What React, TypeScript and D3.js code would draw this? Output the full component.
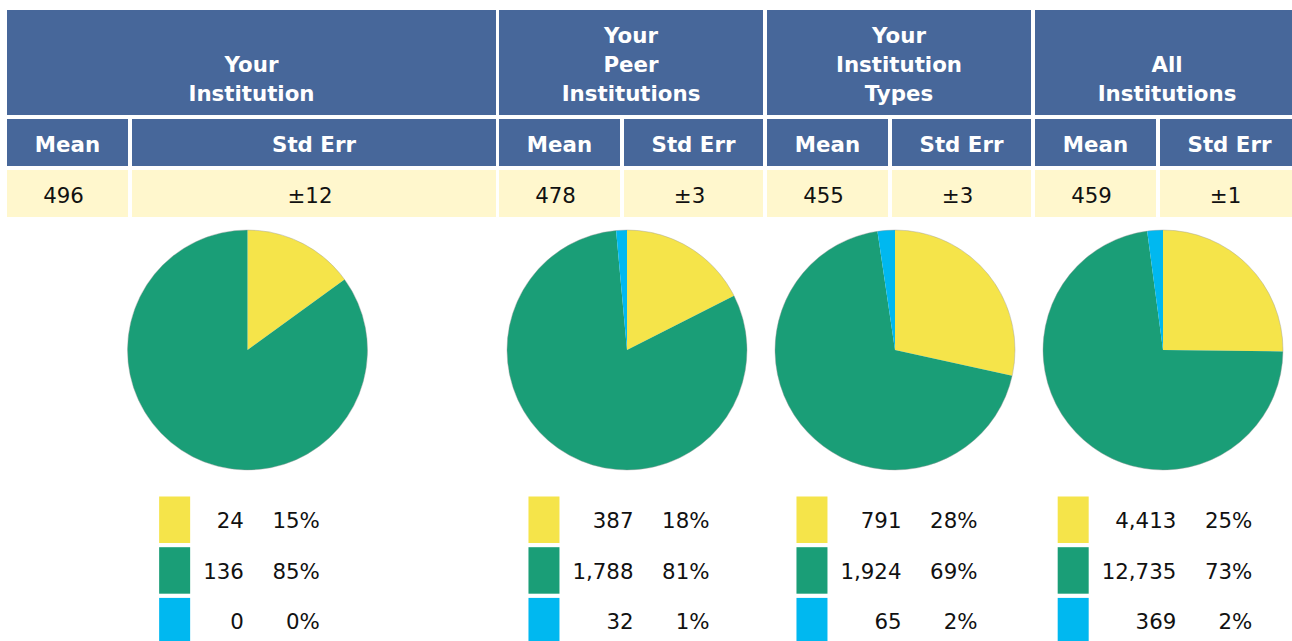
import React from "react";
import * as d3 from "d3";

const groupTitles: string[][] = [
  ["Your", "Institution"],
  ["Your", "Peer", "Institutions"],
  ["Your", "Institution", "Types"],
  ["All", "Institutions"],
];
const meanValues = [496, 478, 455, 459];
const stdErrValues = [12, 3, 3, 1];
const categoryKeys = ["yellow", "green", "blue"];
const yellowCounts = [24, 387, 791, 4413];
const greenCounts = [136, 1788, 1924, 12735];
const blueCounts = [0, 32, 65, 369];
const yellowPct = [15, 18, 28, 25];
const greenPct = [85, 81, 69, 73];
const bluePct = [0, 1, 2, 2];

const W = 1292;
const H = 641;
const HEADER_BLUE = "#47679A";
const DATA_BG = "#FFF7CD";
const FONT = "'DejaVu Sans', Verdana, sans-serif";
const FS = 21.33;
const color = d3.scaleOrdinal<string, string>().domain(categoryKeys).range(["#F5E44A", "#1A9E77", "#00B8F0"]);

const groupX = [7, 499, 767, 1035];
const groupW = [489, 264, 264, 264];
const meanW = 121;
const GAP = 4;

let ctx: CanvasRenderingContext2D | null = null;
function measure(t: string): number {
  if (!ctx) ctx = document.createElement("canvas").getContext("2d");
  if (!ctx) return t.length * 13.5;
  ctx.font = `${FS}px DejaVu Sans`;
  return ctx.measureText(t).width;
}

const fmt = d3.format(",");

export default function App() {
  const pie = d3.pie<number>().sort(null).value((d) => d);
  const arc = d3.arc<d3.PieArcDatum<number>>().innerRadius(0).outerRadius(120);
  return (
    <svg width={W} height={H} style={{ position: "absolute", left: 0, top: 0 }} fontFamily={FONT}>
      {groupTitles.map((title, g) => {
        const x0 = groupX[g];
        const gw = groupW[g];
        const seX = x0 + meanW + GAP;
        const seW = gw - meanW - GAP;
        const cx = x0 + gw / 2 - 4;
        const counts = [yellowCounts[g], greenCounts[g], blueCounts[g]];
        const pcts = [yellowPct[g], greenPct[g], bluePct[g]];
        const arcs = pie(counts);
        const countLabels = counts.map((c) => fmt(c));
        const countW = Math.max(...countLabels.map(measure));
        const legW = 31 + countW + 13 + 76 + 16;
        const lx = cx - legW / 2;
        const countRight = lx + 31 + 13 + countW;
        const pctRight = countRight + 76;
        return (
          <g key={g}>
            <rect x={x0} y={10} width={gw} height={105} fill={HEADER_BLUE} />
            {title.map((line, i) => (
              <text
                key={i}
                x={x0 + gw / 2}
                y={101 - (title.length - 1 - i) * 29}
                textAnchor="middle"
                fill="#fff"
                fontWeight="bold"
                fontSize={FS}
              >
                {line}
              </text>
            ))}
            <rect x={x0} y={119} width={meanW} height={47} fill={HEADER_BLUE} />
            <rect x={seX} y={119} width={seW} height={47} fill={HEADER_BLUE} />
            <text x={x0 + meanW / 2} y={151.5} textAnchor="middle" fill="#fff" fontWeight="bold" fontSize={FS}>
              Mean
            </text>
            <text x={seX + seW / 2} y={151.5} textAnchor="middle" fill="#fff" fontWeight="bold" fontSize={FS}>
              Std Err
            </text>
            <rect x={x0} y={170} width={meanW} height={47} fill={DATA_BG} />
            <rect x={seX} y={170} width={seW} height={47} fill={DATA_BG} />
            <text x={x0 + meanW / 2 - 4} y={202.5} textAnchor="middle" fill="#111" fontSize={FS}>
              {meanValues[g]}
            </text>
            <text x={seX + seW / 2 - 4} y={202.5} textAnchor="middle" fill="#111" fontSize={FS}>
              {"±" + stdErrValues[g]}
            </text>
            <g transform={`translate(${cx},350)`}>
              {arcs.map((a, i) =>
                a.value > 0 ? <path key={i} d={arc(a) || ""} fill={color(categoryKeys[i])} /> : null
              )}
              <circle r={120} fill="none" stroke="#999" strokeWidth={0.6} strokeOpacity={0.7} />
            </g>
            {categoryKeys.map((k, i) => {
              const top = 496.5 + i * 50.7;
              return (
                <g key={k}>
                  <rect x={lx} y={top} width={31} height={46.5} fill={color(k)} />
                  <text x={countRight} y={top + 31.5} textAnchor="end" fill="#111" fontSize={FS}>
                    {countLabels[i]}
                  </text>
                  <text x={pctRight} y={top + 31.5} textAnchor="end" fill="#111" fontSize={FS}>
                    {pcts[i] + "%"}
                  </text>
                </g>
              );
            })}
          </g>
        );
      })}
    </svg>
  );
}
